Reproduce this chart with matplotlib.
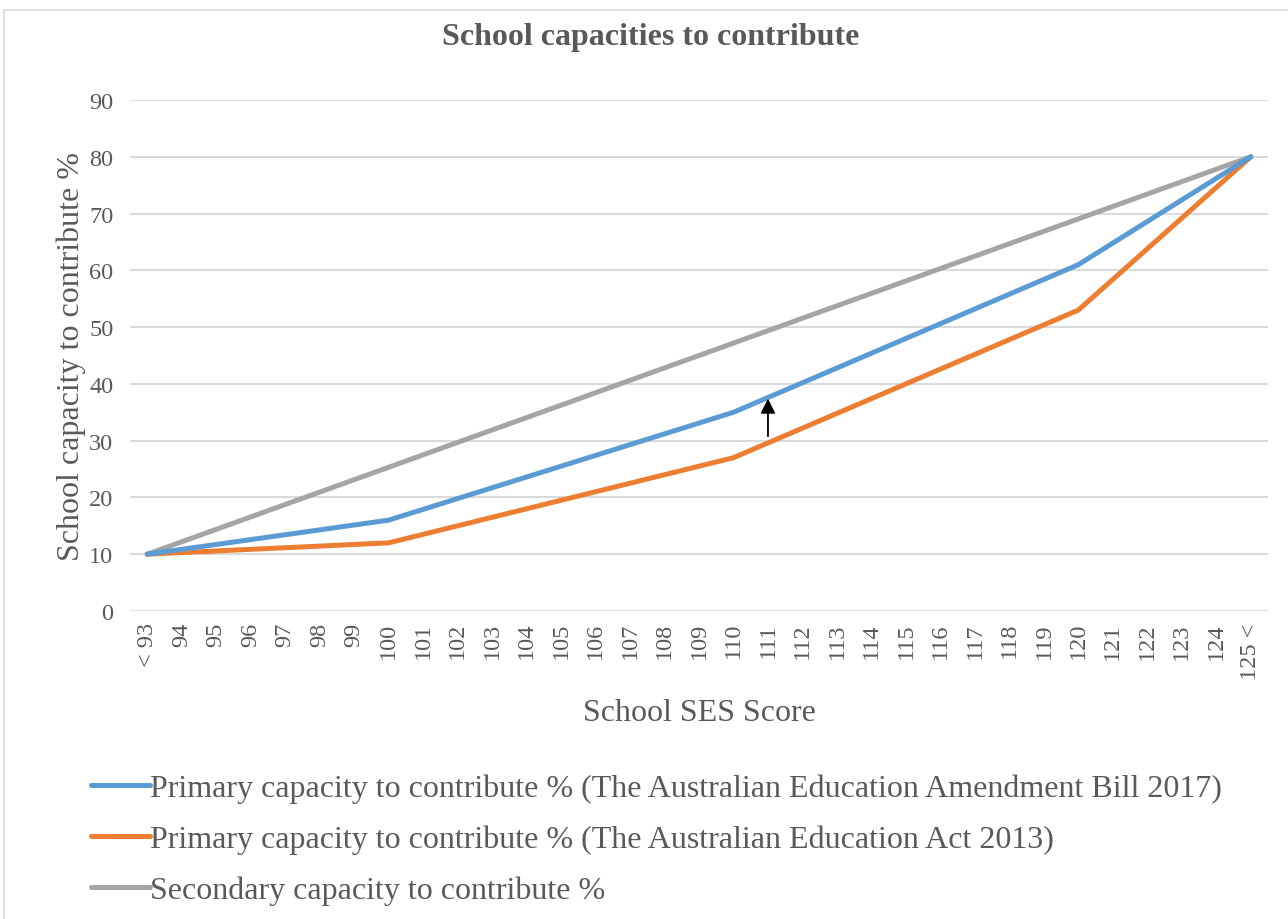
import numpy as np
import matplotlib
matplotlib.use('Agg')
from matplotlib import pyplot as plt
from matplotlib.patches import Rectangle

# categories on the x axis
categories = ['< 93'] + [str(v) for v in range(94, 125)] + ['125 <']

# values given only at the key SES scores, other categories left blank
known_ses = ['< 93', '100', '110', '120', '125 <']
primary_2017 = [10, 16, 35, 61, 80]
primary_2013 = [10, 12, 27, 53, 80]
secondary_ses = ['< 93', '125 <']
secondary = [10, 80]

series_names = ['Primary capacity to contribute % (The Australian Education Amendment Bill 2017)',
                'Primary capacity to contribute % (The Australian Education Act 2013)',
                'Secondary capacity to contribute %']
colors = ['#5B9BD5', '#ED7D31', '#A5A5A5']

# arrow annotation (category, from value, to value)
arrow_cat = '111'
arrow_from = 30.3
arrow_to = 37.9

plt.rcParams['font.family'] = ['Liberation Serif', 'DejaVu Serif']
grey = '#595959'

fig = plt.figure(figsize=(12.88, 9.2), dpi=100)
ax = fig.add_axes([0.1009, 0.3348, 0.8836, 0.5554])

xpos = {c: i for i, c in enumerate(categories)}

ax.plot([xpos[c] for c in secondary_ses], secondary, color=colors[2], lw=3.6,
        solid_capstyle='round', label=series_names[2], zorder=3)
ax.plot([xpos[c] for c in known_ses], primary_2013, color=colors[1], lw=3.6,
        solid_capstyle='round', label=series_names[1], zorder=4)
ax.plot([xpos[c] for c in known_ses], primary_2017, color=colors[0], lw=3.6,
        solid_capstyle='round', label=series_names[0], zorder=5)

ax.annotate('', xy=(xpos[arrow_cat], arrow_to), xytext=(xpos[arrow_cat], arrow_from),
            arrowprops=dict(arrowstyle='-|>', color='black', lw=1.3, mutation_scale=22),
            zorder=6)

ax.set_xlim(-0.5, len(categories) - 0.5)
ax.set_ylim(0, 90)
ax.set_yticks(np.arange(0, 91, 10))
ax.set_xticks(range(len(categories)))
ax.set_xticklabels(categories, rotation=90, fontsize=17.5, color=grey)
ax.tick_params(axis='y', labelsize=17.5, labelcolor=grey, length=0, pad=12)
ax.tick_params(axis='x', length=0, pad=8)
ax.grid(axis='y', color='#D9D9D9', lw=1.4)
ax.set_axisbelow(True)
for s in ax.spines.values():
    s.set_visible(False)

ax.set_xlabel('School SES Score', fontsize=23, color=grey, labelpad=14)
ax.set_ylabel('School capacity to contribute %', fontsize=23, color=grey, labelpad=2)
fig.text(0.505, 0.959, 'School capacities to contribute', ha='center', va='center',
         fontsize=23, fontweight='bold', color=grey)

handles, labels = ax.get_legend_handles_labels()
leg = fig.legend(handles[::-1], labels[::-1], loc='upper left', bbox_to_anchor=(0.058, 0.175),
                 frameon=False, fontsize=23, handlelength=1.85, handletextpad=0.0,
                 labelspacing=0.67, borderpad=0, labelcolor=grey)

fig.patches.append(Rectangle((4 / 1288, -0.05), 1.1, 1 - 11 / 920 + 0.05,
                             transform=fig.transFigure, fill=False,
                             edgecolor='#D9D9D9', lw=1.2))

fig.savefig('out.png', dpi=100)
